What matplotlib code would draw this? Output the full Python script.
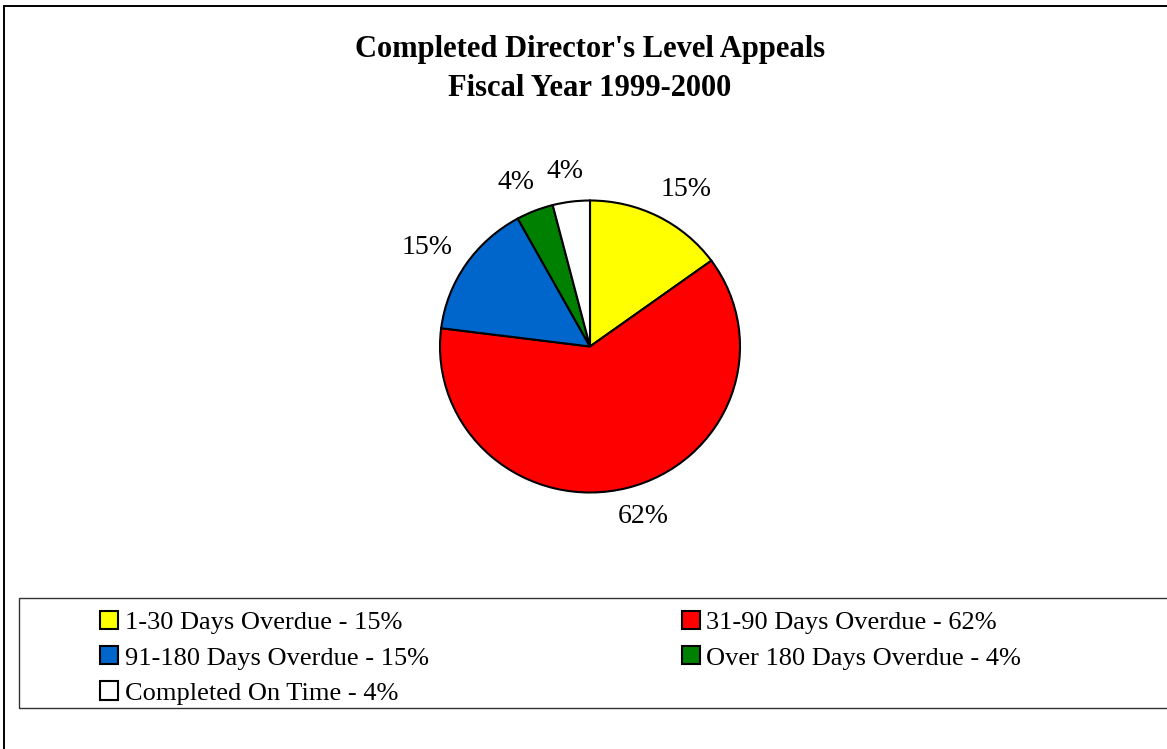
import numpy as np
import matplotlib.pyplot as plt
from matplotlib.patches import Rectangle

# data
categories = ["1-30 Days Overdue", "31-90 Days Overdue", "91-180 Days Overdue",
              "Over 180 Days Overdue", "Completed On Time"]
percents = [15, 62, 15, 4, 4]
colors = ["#FFFF00", "#FF0000", "#0066CC", "#008000", "#FFFFFF"]

W, H = 1167, 749
plt.rcParams['font.family'] = ['Liberation Serif', 'DejaVu Serif']

fig = plt.figure(figsize=(W / 100, H / 100), dpi=100)

# outer chart frame (runs off the right and bottom edges)
fig.add_artist(Rectangle((4 / W, -0.5), 2, 0.5 + 1 - 6 / H, transform=fig.transFigure,
                         fill=False, edgecolor="black", lw=1.4))

# title
fig.text(590 / W, 1 - 69 / H, "Completed Director's Level Appeals\nFiscal Year 1999-2000",
         ha="center", va="center", fontsize=22, fontweight="bold", linespacing=1.45)

# pie (slightly wider than tall, as in the original)
cx, cy, rx, ry = 590, 346.5, 150, 146
ax = fig.add_axes([(cx - rx) / W, 1 - (cy + ry) / H, 2 * rx / W, 2 * ry / H])
wedges, texts, autotexts = ax.pie(
    percents, colors=colors, startangle=90, counterclock=False,
    autopct=lambda p: "%d%%" % round(p), pctdistance=1.2,
    wedgeprops=dict(edgecolor="black", linewidth=1.5),
    textprops=dict(fontsize=20))
ax.set_aspect("auto")
ax.set_xlim(-1, 1)
ax.set_ylim(-1, 1)
ax.axis("off")

# push percentage labels outward so their boxes sit just off the rim
fig.canvas.draw()
renderer = fig.canvas.get_renderer()
for w, t in zip(wedges, autotexts):
    th = np.deg2rad((w.theta1 + w.theta2) / 2)
    bb = t.get_window_extent(renderer)
    hw = bb.width / 2 / rx
    hh = bb.height / 2 / ry
    c, s = np.cos(th), np.sin(th)
    t.set_position((1.11 * c + hw * np.clip(1.8 * c, -1, 1), 1.12 * s + hh * s))
    t.set_ha("center")
    t.set_va("center")

# legend box
fig.add_artist(Rectangle((19 / W, 1 - 708 / H), 2, (708 - 598) / H, transform=fig.transFigure,
                         fill=False, edgecolor="#333333", lw=1.0))

labels = ["%s - %d%%" % (c, p) for c, p in zip(categories, percents)]
order = [0, 2, 4, 1, 3]
leg = fig.legend([wedges[i] for i in order], [labels[i] for i in order],
                 ncol=2, loc="upper left", bbox_to_anchor=(100 / W, 1 - 611 / H),
                 frameon=False, fontsize=19, handlelength=0.68, handleheight=0.68,
                 handletextpad=0.25, columnspacing=9.6, labelspacing=0.45,
                 borderpad=0, borderaxespad=0)

fig.savefig("out.png", dpi=100)
